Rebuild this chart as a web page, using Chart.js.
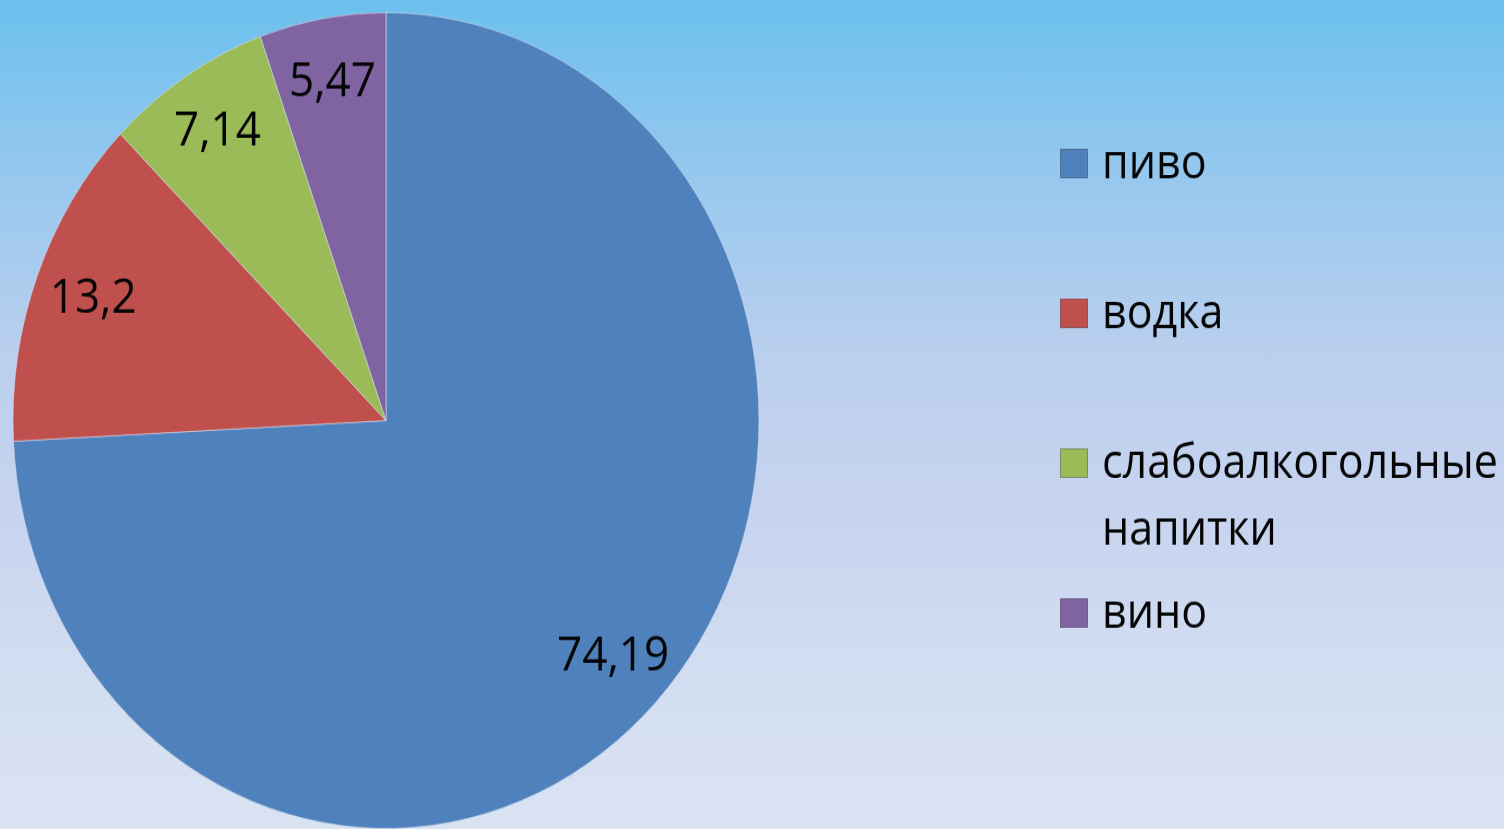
<!DOCTYPE html>
<html>
<head>
<meta charset="utf-8">
<script src="https://cdn.jsdelivr.net/npm/chart.js@4/dist/chart.umd.min.js"></script>
<style>
  html, body { margin: 0; padding: 0; }
  body {
    width: 1504px; height: 829px; overflow: hidden;
    background: linear-gradient(to bottom, #6bc0ed 0%, #98c8ee 22%, #b9cfee 42%, #c6d3ef 60%, #d2ddf1 80%, #d9e3f2 100%);
  }
  #wrap { width: 1504px; height: 758px; transform-origin: 0 0; transform: scaleY(1.0937); }
</style>
</head>
<body>
<div id="wrap"><canvas id="pie" width="1504" height="758"></canvas></div>
<script>
'use strict';

// data
var categories = ['пиво', 'водка', 'слабоалкогольные напитки', 'вино'];
var shares = [74.19, 13.2, 7.14, 5.47];
var valueLabels = ['74,19', '13,2', '7,14', '5,47'];
var sliceColors = ['#4f81bd', '#c0504d', '#9bbb59', '#8064a2'];

var FONT = '"Open Sans", "Noto Sans", sans-serif';

// value labels inside the slices
var sliceLabels = {
    id: 'sliceLabels',
    afterDatasetsDraw: function (chart) {
        var ctx = chart.ctx;
        var arcs = chart.getDatasetMeta(0).data;
        ctx.save();
        ctx.font = '44px ' + FONT;
        ctx.fillStyle = '#050505';
        ctx.textAlign = 'center';
        ctx.textBaseline = 'middle';
        for (var i = 0; i < arcs.length; i++) {
            var a = arcs[i];
            var mid = (a.startAngle + a.endAngle) / 2;
            var r = a.outerRadius * 0.84;
            ctx.fillText(valueLabels[i], a.x + Math.cos(mid) * r, a.y + Math.sin(mid) * r);
        }
        ctx.restore();
    }
};

// legend on the right, with wrapping text
var sideLegend = {
    id: 'sideLegend',
    afterDraw: function (chart) {
        var ctx = chart.ctx;
        var labels = chart.data.labels;
        var colors = chart.data.datasets[0].backgroundColor;
        var boxX = 1060, textX = 1102, maxW = 1504 - textX;
        var baseY = 163, step = 137, lineH = 61;
        ctx.save();
        ctx.font = '43px ' + FONT;
        ctx.textBaseline = 'alphabetic';
        ctx.textAlign = 'left';
        for (var i = 0; i < labels.length; i++) {
            var y = baseY + i * step;
            ctx.fillStyle = colors[i];
            ctx.fillRect(boxX, y - 27, 28, 27);
            ctx.strokeStyle = 'rgba(90,90,110,0.5)';
            ctx.lineWidth = 1;
            ctx.strokeRect(boxX + 0.5, y - 26.5, 27, 26);
            // wrap words
            var words = labels[i].split(' ');
            var lines = [], cur = '';
            words.forEach(function (w) {
                var test = cur ? cur + ' ' + w : w;
                if (cur && ctx.measureText(test).width > maxW) {
                    lines.push(cur);
                    cur = w;
                } else {
                    cur = test;
                }
            });
            lines.push(cur);
            ctx.fillStyle = '#050505';
            lines.forEach(function (ln, k) {
                ctx.fillText(ln, textX, y + k * lineH);
            });
        }
        ctx.restore();
    }
};

var chart = new Chart(document.getElementById('pie'), {
    type: 'pie',
    data: {
        labels: categories,
        datasets: [{
            data: shares,
            backgroundColor: sliceColors,
            borderColor: 'rgba(210,220,235,0.6)',
            borderWidth: 1
        }]
    },
    options: {
        responsive: false,
        animation: false,
        layout: { padding: { left: 12, top: 11, right: 744, bottom: 0 } },
        plugins: {
            legend: { display: false },
            tooltip: { enabled: false }
        }
    },
    plugins: [sliceLabels, sideLegend]
});
</script>
</body>
</html>
